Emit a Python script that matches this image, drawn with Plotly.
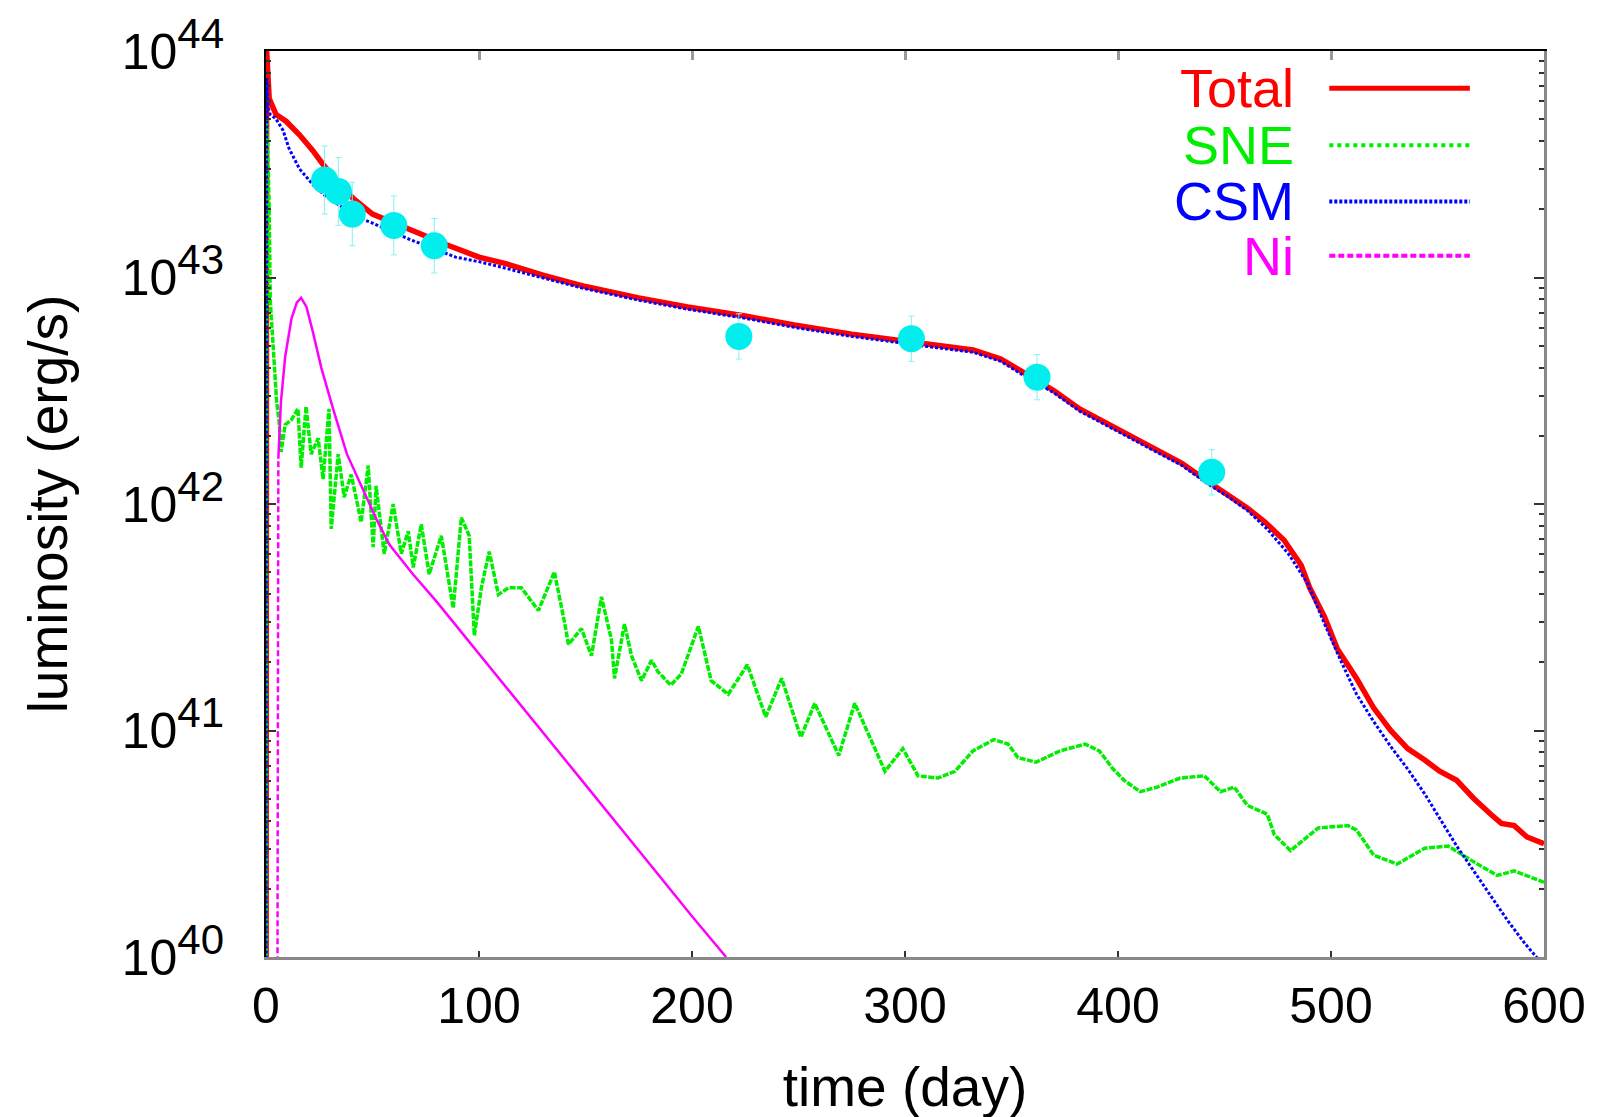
import plotly.graph_objects as go

# --- data (log10 of luminosity in erg/s, time in days) ---
total_t = [0, 0.3, 1.5, 4.7, 9.4, 15.7, 22, 26.7, 33, 40.8, 50, 60, 69, 86, 100, 113, 130, 150,
           175, 198, 225, 248, 275, 298, 315, 332, 345, 357, 370, 382, 400, 416, 430, 442, 452,
           461, 469, 478, 486, 490, 497, 503, 512, 520, 528, 536, 544, 551, 559, 567, 575, 580,
           586, 592, 600]
total_log = [39.0, 44.0, 43.79, 43.72, 43.69, 43.63, 43.56, 43.50, 43.43, 43.35, 43.28, 43.24,
             43.21, 43.14, 43.09, 43.06, 43.01, 42.96, 42.91, 42.87, 42.83, 42.79, 42.75, 42.72,
             42.70, 42.68, 42.64, 42.57, 42.50, 42.42, 42.33, 42.25, 42.18, 42.10, 42.04, 41.98,
             41.92, 41.84, 41.73, 41.63, 41.50, 41.36, 41.23, 41.10, 41.00, 40.92, 40.87, 40.82,
             40.78, 40.70, 40.63, 40.59, 40.58, 40.53, 40.50]

sne_t = [0, 0.3, 1, 1.5, 2, 3, 4, 5, 6.1, 7.1, 9, 11.8, 15, 16.5, 18.8, 21.2, 24.5, 26.8, 29.6,
         30.6, 33.9, 36.7, 40, 44.7, 48, 50.3, 51.7, 55.5, 59.7, 63.5, 66.8, 69.1, 72.9, 76.6,
         82.3, 87.9, 91.7, 95.4, 97.8, 101.1, 104.8, 109.1, 113.8, 119.9, 127.9, 135.4, 140.1,
         142, 148.1, 152.8, 157.5, 162.2, 163.6, 168.3, 171.6, 176.3, 181, 184, 190, 195, 203,
         209, 217, 226, 234.6, 242.1, 251.1, 257.6, 268.9, 276.4, 290.6, 299, 306.1, 315.5,
         323.5, 331.9, 341.8, 348.4, 353.1, 361.5, 372.8, 384.6, 391.2, 397.7, 402.9, 410.4,
         418.4, 429.2, 440.5, 448.1, 454.6, 460.7, 470.1, 473.4, 481, 494, 508, 512, 520, 531,
         544, 555, 567, 578, 586, 598, 600]
sne_log = [39.0, 43.7, 43.5, 43.3, 42.9, 42.75, 42.6, 42.45, 42.37, 42.23, 42.35, 42.37, 42.42,
           42.16, 42.43, 42.22, 42.29, 42.11, 42.42, 41.89, 42.22, 42.03, 42.13, 41.92, 42.17,
           41.81, 42.08, 41.78, 42.00, 41.78, 41.88, 41.72, 41.91, 41.69, 41.86, 41.54, 41.94,
           41.86, 41.42, 41.63, 41.79, 41.60, 41.63, 41.63, 41.53, 41.70, 41.48, 41.38, 41.45,
           41.33, 41.59, 41.40, 41.23, 41.47, 41.33, 41.22, 41.31, 41.26, 41.20, 41.25, 41.46,
           41.22, 41.16, 41.29, 41.06, 41.23, 40.97, 41.12, 40.89, 41.12, 40.82, 40.92, 40.80,
           40.79, 40.82, 40.91, 40.96, 40.94, 40.88, 40.86, 40.91, 40.94, 40.91, 40.83, 40.78,
           40.73, 40.75, 40.79, 40.80, 40.73, 40.75, 40.67, 40.63, 40.54, 40.47, 40.57, 40.58,
           40.56, 40.45, 40.41, 40.48, 40.49, 40.42, 40.36, 40.38, 40.34, 40.33]

csm_t = [0, 0.3, 1, 2, 4.7, 8, 10.8, 15.7, 22, 28, 34.3, 42, 50, 60, 67, 89, 100, 113, 130, 150,
         175, 198, 225, 248, 275, 298, 315, 332, 345, 357, 370, 382, 400, 416, 430, 442, 452,
         461, 470, 480, 489, 497, 505, 512, 520, 528, 536, 544, 552, 559, 567, 575, 583, 591, 600]
csm_log = [39.0, 43.88, 43.75, 43.72, 43.70, 43.65, 43.57, 43.48, 43.41, 43.36, 43.32, 43.27,
           43.24, 43.20, 43.17, 43.09, 43.07, 43.04, 43.00, 42.95, 42.90, 42.86, 42.82, 42.78,
           42.74, 42.71, 42.69, 42.67, 42.63, 42.56, 42.49, 42.41, 42.32, 42.24, 42.17, 42.09,
           42.03, 41.97, 41.89, 41.78, 41.65, 41.47, 41.30, 41.16, 41.04, 40.93, 40.83, 40.72,
           40.60, 40.49, 40.38, 40.27, 40.16, 40.06, 39.96]

ni_t = [5.3, 5.8, 7, 9, 12, 14.5, 16.5, 19, 22, 26, 31.5, 38, 45.6, 52, 58, 69, 80, 100, 125,
        150, 175, 200, 216]
ni_log = [39.5, 42.2, 42.45, 42.65, 42.82, 42.89, 42.91, 42.87, 42.76, 42.60, 42.42, 42.22,
          42.06, 41.93, 41.82, 41.69, 41.57, 41.34, 41.05, 40.76, 40.47, 40.18, 40.0]

obs_t = [27.5, 34, 40.5, 60, 79, 222, 303, 362, 444]
obs_log = [43.43, 43.38, 43.28, 43.23, 43.14, 42.74, 42.73, 42.56, 42.14]
obs_err_dex = [0.15, 0.15, 0.14, 0.13, 0.12, 0.10, 0.10, 0.10, 0.10]

legend_names = ["Total", "SNE", "CSM", "Ni"]
legend_colors = ["#ff0000", "#00ee00", "#0000ff", "#ff00ff"]
legend_dash = ["solid", "dot", "3px,2px", "6px,3px"]

y_exponents = [40, 41, 42, 43, 44]
x_ticks = [0, 100, 200, 300, 400, 500, 600]


def lin(vals):
    return [10.0 ** v for v in vals]


FONT = "Liberation Sans, Arial, Helvetica, sans-serif"

fig = go.Figure()

fig.add_trace(go.Scatter(x=total_t, y=lin(total_log), mode="lines", name="Total",
                         line=dict(color="#ff0000", width=5.5), showlegend=False))
fig.add_trace(go.Scatter(x=sne_t, y=lin(sne_log), mode="lines", name="SNE",
                         line=dict(color="#00ee00", width=3.5, dash="6px,1.5px"), showlegend=False))
fig.add_trace(go.Scatter(x=csm_t, y=lin(csm_log), mode="lines", name="CSM",
                         line=dict(color="#0000ff", width=3, dash="3px,2px"), showlegend=False))
# Ni: dashed rising edge, solid after
fig.add_trace(go.Scatter(x=ni_t[:2], y=lin(ni_log[:2]), mode="lines", name="Ni",
                         line=dict(color="#ff00ff", width=2.5, dash="6px,3px"), showlegend=False))
fig.add_trace(go.Scatter(x=ni_t[1:], y=lin(ni_log[1:]), mode="lines", name="Ni",
                         line=dict(color="#ff00ff", width=2.5), showlegend=False))

obs_y = lin(obs_log)
err_plus = [y * (10.0 ** e - 1) for y, e in zip(obs_y, obs_err_dex)]
err_minus = [y * (1 - 10.0 ** -e) for y, e in zip(obs_y, obs_err_dex)]
fig.add_trace(go.Scatter(
    x=obs_t, y=obs_y, mode="markers", name="obs", showlegend=False,
    marker=dict(color="#00eeee", size=27),
    error_y=dict(type="data", array=err_plus, arrayminus=err_minus, symmetric=False,
                 color="#7ff4f4", thickness=1, width=3),
))

# dummy trace so the top/right frame axes get drawn
fig.add_trace(go.Scatter(x=[None], y=[None], xaxis="x2", yaxis="y2", showlegend=False,
                         hoverinfo="skip"))

# gnuplot-style key: right aligned text, sample line on the right
key_y = [0.959, 0.896, 0.834, 0.774]
for name, color, dash, ky in zip(legend_names, legend_colors, legend_dash, key_y):
    fig.add_annotation(x=0.806, y=ky, xref="paper", yref="paper", text=name,
                       showarrow=False, xanchor="right", yanchor="middle",
                       font=dict(family=FONT, size=54, color=color))
    fig.add_shape(type="line", xref="paper", yref="paper", x0=0.832, x1=0.942, y0=ky, y1=ky,
                  line=dict(color=color, width=5 if name == "Total" else 4, dash=dash))

y_range = [40, 44]
ytext = [f"10<sup><span style='font-size:42px'>{e}</span></sup>" for e in y_exponents]

fig.update_layout(
    width=1600, height=1117,
    plot_bgcolor="white", paper_bgcolor="white",
    font=dict(family=FONT, size=50, color="black"),
    margin=dict(l=258, r=64, t=43, b=168),
    xaxis=dict(range=[0, 600], tickvals=x_ticks, ticks="inside", ticklen=6, tickwidth=2,
               tickcolor="#333", showline=True, linecolor="#888", linewidth=3,
               showgrid=False, zeroline=False, ticklabelstandoff=3,
               tickfont=dict(size=50), automargin=False,
               title=dict(text="time (day)", font=dict(size=55), standoff=35)),
    yaxis=dict(type="log", range=y_range, tickvals=lin(y_exponents), ticktext=ytext,
               ticks="inside", ticklen=10, tickwidth=2, tickcolor="#333",
               minor=dict(ticks="inside", ticklen=5, tickcolor="#333", dtick="D1", showgrid=False),
               showline=True, linecolor="black", linewidth=2, showgrid=False, zeroline=False,
               ticklabelstandoff=30, tickfont=dict(size=50), automargin=False,
               title=dict(text="luminosity (erg/s)", font=dict(size=55), standoff=36)),
    xaxis2=dict(range=[0, 600], overlaying="x", side="top", anchor="y2", tickvals=x_ticks,
                ticks="inside", ticklen=9, tickwidth=3, tickcolor="#999",
                showticklabels=False, showline=True, linecolor="black", linewidth=2,
                showgrid=False, zeroline=False),
    yaxis2=dict(type="log", range=y_range, overlaying="y", side="right", anchor="x2",
                tickvals=lin(y_exponents), ticks="inside", ticklen=10, tickwidth=2,
                tickcolor="#333", showticklabels=False,
                minor=dict(ticks="inside", ticklen=5, tickcolor="#333", dtick="D1", showgrid=False),
                showline=True, linecolor="#888", linewidth=3, showgrid=False, zeroline=False),
    showlegend=False,
)

fig.write_html("out.html")
